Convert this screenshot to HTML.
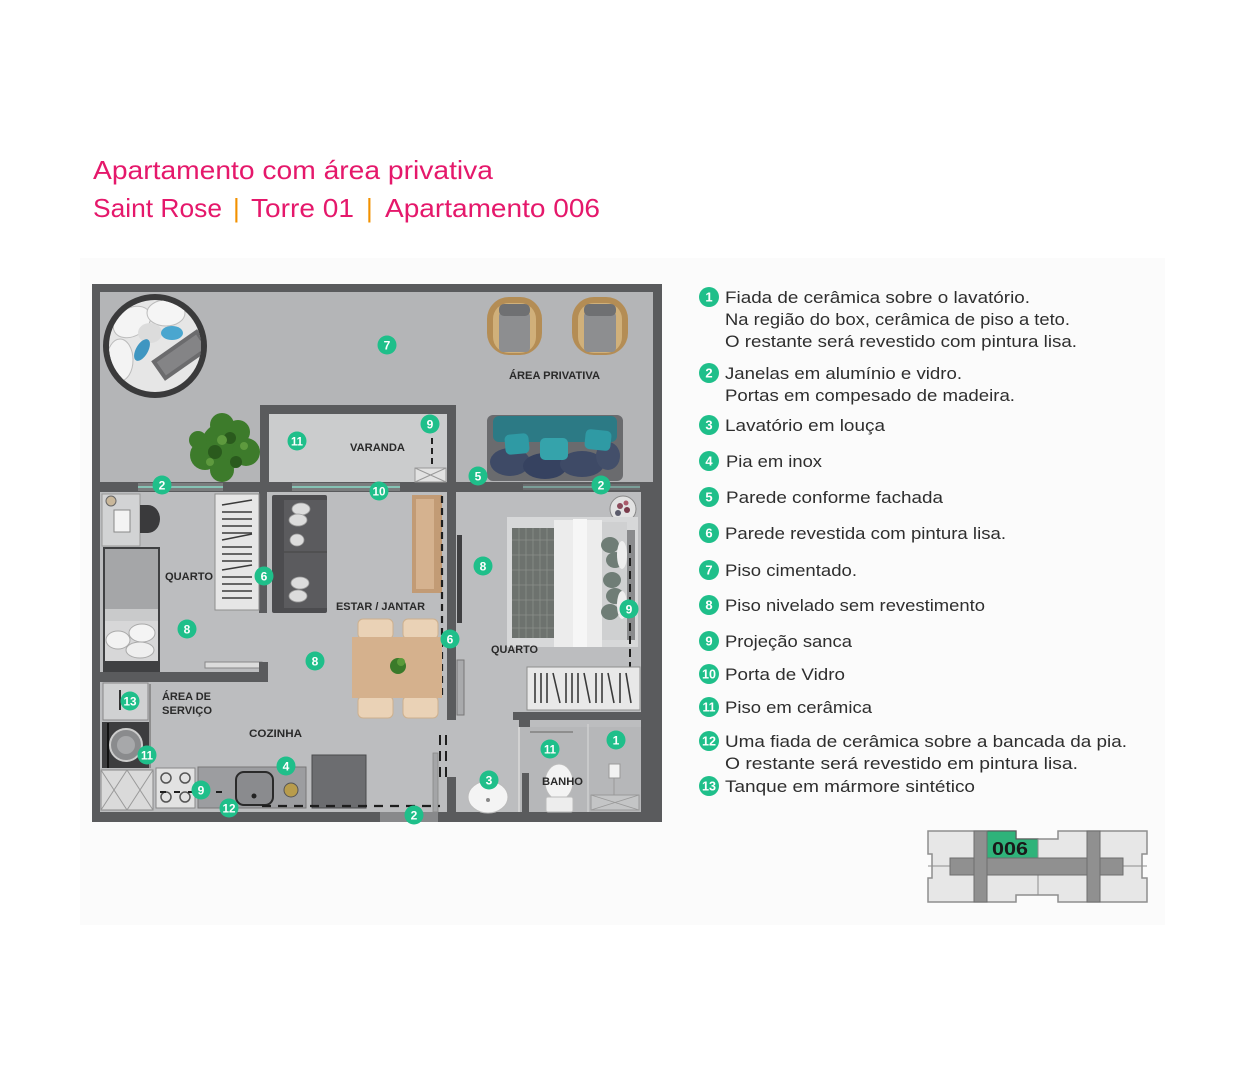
<!DOCTYPE html>
<html><head><meta charset="utf-8"><style>
html,body{margin:0;padding:0;background:#fff;width:1250px;height:1080px;overflow:hidden}
svg{display:block}
.t{font-family:"Liberation Sans",sans-serif}
.lbl{font-family:"Liberation Sans",sans-serif;font-weight:bold;font-size:11px;fill:#2a2a2a}
.bn{font-family:"Liberation Sans",sans-serif;font-weight:bold;font-size:12px;fill:#fff;text-anchor:middle}
.lg{font-family:"Liberation Sans",sans-serif;font-size:17px;fill:#2e2e2e}
.ln{font-family:"Liberation Sans",sans-serif;font-weight:bold;font-size:13px;fill:#fff;text-anchor:middle}
</style></head><body>
<svg width="1250" height="1080" viewBox="0 0 1250 1080" xmlns="http://www.w3.org/2000/svg">
<defs><clipPath id="pc"><circle cx="155" cy="346" r="46"/></clipPath></defs>
<rect x="0" y="0" width="1250" height="1080" fill="#fff"/>
<rect x="80" y="258" width="1085" height="667" fill="#fbfbfb"/>

<!-- Title -->
<text class="t" x="93" y="179" font-size="26" fill="#e5186b" textLength="400" lengthAdjust="spacingAndGlyphs">Apartamento com área privativa</text>
<text class="t" x="93" y="217" font-size="26" fill="#e5186b" textLength="129" lengthAdjust="spacingAndGlyphs">Saint Rose</text>
<text class="t" x="233" y="217" font-size="26" fill="#f29100">|</text>
<text class="t" x="251" y="217" font-size="26" fill="#e5186b" textLength="103" lengthAdjust="spacingAndGlyphs">Torre 01</text>
<text class="t" x="366" y="217" font-size="26" fill="#f29100">|</text>
<text class="t" x="385" y="217" font-size="26" fill="#e5186b" textLength="215" lengthAdjust="spacingAndGlyphs">Apartamento 006</text>

<!-- ============ FLOOR PLAN ============ -->
<rect x="92" y="284" width="570" height="538" fill="#5a5b5d"/>
<rect x="100" y="292" width="553" height="190" fill="#b4b5b7"/>
<rect x="100" y="492" width="541" height="320" fill="#bcbdbf"/>

<!-- windows on middle wall -->
<rect x="138" y="483" width="85" height="8" fill="#7a7c7d"/>
<line x1="138" y1="487" x2="223" y2="487" stroke="#86c2b4" stroke-width="2"/>
<rect x="292" y="483" width="108" height="8" fill="#7a7c7d"/>
<line x1="292" y1="487" x2="400" y2="487" stroke="#86c2b4" stroke-width="2"/>
<rect x="523" y="484" width="117" height="6" fill="#6a6b6d"/>
<line x1="523" y1="487" x2="640" y2="487" stroke="#7fb0a6" stroke-width="1.5"/>

<!-- varanda -->
<rect x="260" y="405" width="196" height="9" fill="#5a5b5d"/>
<rect x="260" y="405" width="9" height="80" fill="#5a5b5d"/>
<rect x="269" y="414" width="178" height="68" fill="#cbcccd"/>
<rect x="447" y="405" width="9" height="315" fill="#5a5b5d"/>
<rect x="415" y="468" width="31" height="14" fill="#e2e2e2" stroke="#999" stroke-width="1"/>
<path d="M415 468 L446 482 M446 468 L415 482" stroke="#999" stroke-width="1"/>
<line x1="432" y1="438" x2="432" y2="466" stroke="#222" stroke-width="2" stroke-dasharray="6 4"/>

<!-- papasan chair -->
<circle cx="155" cy="346" r="52" fill="#3a3a3b"/>
<circle cx="155" cy="346" r="46" fill="#e6e6e6"/>
<g clip-path="url(#pc)">
<ellipse cx="132" cy="322" rx="20" ry="14" fill="#f4f4f4" stroke="#bbb" transform="rotate(-30 132 322)"/>
<ellipse cx="166" cy="313" rx="19" ry="13" fill="#f5f5f5" stroke="#bbb"/>
<ellipse cx="120" cy="360" rx="13" ry="21" fill="#f3f3f3" stroke="#bbb"/>
<ellipse cx="150" cy="333" rx="12" ry="10" fill="#dcdcdc"/>
<ellipse cx="172" cy="333" rx="11" ry="7" fill="#4aa6cf"/>
<ellipse cx="142" cy="350" rx="6" ry="12" fill="#3f96c1" transform="rotate(30 142 350)"/>
<rect x="153" y="343" width="56" height="24" fill="#6b6b6d" transform="rotate(-35 181 355)"/>
<rect x="157" y="347" width="48" height="16" fill="#848486" transform="rotate(-35 181 355)"/>
</g>

<!-- tree -->
<g fill="#3d7b2b">
<circle cx="225" cy="446" r="24"/><circle cx="205" cy="455" r="15"/><circle cx="246" cy="452" r="14"/><circle cx="222" cy="425" r="12"/><circle cx="238" cy="432" r="12"/><circle cx="222" cy="470" r="12"/><circle cx="198" cy="440" r="9"/>
</g>
<g fill="#2a5a1d"><circle cx="215" cy="452" r="7"/><circle cx="236" cy="462" r="6"/><circle cx="230" cy="438" r="6"/></g>
<g fill="#5e9a3e"><circle cx="222" cy="440" r="5"/><circle cx="210" cy="462" r="4"/><circle cx="244" cy="446" r="4"/></g>

<!-- armchairs -->
<g>
<rect x="487" y="297" width="55" height="58" rx="22" fill="#b48d55"/>
<rect x="493" y="303" width="43" height="50" rx="16" fill="#d0b07a"/>
<rect x="499" y="312" width="31" height="40" rx="4" fill="#8d8e90"/>
<rect x="499" y="304" width="31" height="12" rx="5" fill="#6f7072"/>
</g>
<g>
<rect x="572" y="297" width="56" height="58" rx="22" fill="#b48d55"/>
<rect x="578" y="303" width="44" height="50" rx="16" fill="#d0b07a"/>
<rect x="584" y="312" width="32" height="40" rx="4" fill="#8d8e90"/>
<rect x="584" y="304" width="32" height="12" rx="5" fill="#6f7072"/>
</g>

<!-- sofa -->
<rect x="487" y="415" width="136" height="66" rx="6" fill="#6a6b6e"/>
<rect x="493" y="416" width="124" height="26" rx="6" fill="#2c7a85"/>
<ellipse cx="510" cy="462" rx="20" ry="14" fill="#3e4a66"/>
<ellipse cx="545" cy="466" rx="22" ry="13" fill="#364260"/>
<ellipse cx="582" cy="464" rx="22" ry="13" fill="#3e4a66"/>
<ellipse cx="608" cy="456" rx="12" ry="14" fill="#434f6a"/>
<rect x="505" y="434" width="24" height="20" rx="5" fill="#2f9aa4" transform="rotate(-5 517 444)"/>
<rect x="540" y="438" width="28" height="22" rx="5" fill="#35a3ab"/>
<rect x="585" y="430" width="26" height="20" rx="5" fill="#2f9aa4" transform="rotate(6 598 440)"/>

<!-- left quarto -->
<rect x="259" y="492" width="8" height="121" fill="#5a5b5d"/>
<rect x="92" y="672" width="176" height="10" fill="#5a5b5d"/>
<rect x="205" y="662" width="57" height="6" fill="#dcdcdc" stroke="#888" stroke-width="1"/>
<rect x="259" y="662" width="9" height="12" fill="#5a5b5d"/>
<!-- wardrobe -->
<rect x="215" y="494" width="44" height="116" fill="#e6e6e6" stroke="#8e8e8e"/>
<g stroke="#3a3a3a" stroke-width="1.6">
<line x1="222" y1="505" x2="252" y2="500"/><line x1="222" y1="512" x2="252" y2="512"/><line x1="222" y1="519" x2="252" y2="519"/><line x1="222" y1="526" x2="252" y2="526"/><line x1="222" y1="533" x2="252" y2="533"/><line x1="222" y1="540" x2="252" y2="534"/><line x1="222" y1="547" x2="252" y2="547"/><line x1="222" y1="554" x2="252" y2="554"/><line x1="222" y1="561" x2="252" y2="561"/><line x1="222" y1="570" x2="252" y2="565"/><line x1="222" y1="577" x2="252" y2="577"/><line x1="222" y1="584" x2="252" y2="584"/><line x1="222" y1="591" x2="252" y2="591"/><line x1="222" y1="598" x2="252" y2="598"/>
</g>
<!-- desk -->
<rect x="102" y="494" width="38" height="52" fill="#d2d3d4" stroke="#999"/>
<circle cx="111" cy="501" r="5" fill="#c9b79a" stroke="#666"/>
<rect x="114" y="510" width="16" height="22" fill="#f3f3f3" stroke="#888"/>
<path d="M140 505 h8 a12 14 0 0 1 0 28 h-8 z" fill="#3a3a3c"/>
<!-- bed -->
<rect x="103" y="547" width="57" height="125" fill="#3f4042"/>
<rect x="105" y="549" width="53" height="60" fill="#a5a6a8"/>
<rect x="105" y="609" width="53" height="12" fill="#c9cacb"/>
<rect x="105" y="621" width="53" height="40" fill="#d7d7d8"/>
<ellipse cx="118" cy="640" rx="12" ry="9" fill="#f2f2f2" stroke="#aaa"/>
<ellipse cx="142" cy="633" rx="13" ry="9" fill="#f4f4f4" stroke="#aaa"/>
<ellipse cx="140" cy="650" rx="14" ry="8" fill="#efefef" stroke="#aaa"/>

<!-- living -->
<rect x="272" y="495" width="55" height="118" rx="2" fill="#4c4c4f"/>
<rect x="284" y="500" width="43" height="108" fill="#5b5b5e"/>
<line x1="284" y1="552" x2="327" y2="552" stroke="#444" stroke-width="1"/>
<g fill="#dcdcdc" stroke="#999" stroke-width="0.8">
<ellipse cx="301" cy="509" rx="9" ry="6"/><ellipse cx="298" cy="520" rx="9" ry="6"/><ellipse cx="297" cy="540" rx="7" ry="6"/><ellipse cx="300" cy="583" rx="9" ry="6"/><ellipse cx="298" cy="596" rx="9" ry="6"/>
</g>
<rect x="412" y="495" width="30" height="98" fill="#c29b75"/>
<rect x="416" y="499" width="18" height="90" fill="#d5b28f"/>
<line x1="442" y1="496" x2="442" y2="700" stroke="#1e1e1e" stroke-width="2.2" stroke-dasharray="7 5"/>
<!-- dining -->
<rect x="358" y="619" width="35" height="20" rx="5" fill="#ead2b6" stroke="#cdb08e"/>
<rect x="403" y="619" width="35" height="20" rx="5" fill="#ead2b6" stroke="#cdb08e"/>
<rect x="358" y="696" width="35" height="22" rx="5" fill="#ead2b6" stroke="#cdb08e"/>
<rect x="403" y="696" width="35" height="22" rx="5" fill="#ead2b6" stroke="#cdb08e"/>
<rect x="352" y="637" width="90" height="61" fill="#d5b18d"/>
<circle cx="398" cy="666" r="8" fill="#3a7a2a"/><circle cx="401" cy="662" r="4" fill="#5a9a3a"/>

<!-- wall right-quarto / door area -->
<rect x="457" y="535" width="5" height="88" fill="#3f3f41"/>
<rect x="457" y="660" width="7" height="55" fill="#a9aaac" stroke="#777"/>
<line x1="440" y1="735" x2="440" y2="782" stroke="#1e1e1e" stroke-width="2" stroke-dasharray="10 6"/>
<line x1="446" y1="735" x2="446" y2="782" stroke="#1e1e1e" stroke-width="2" stroke-dasharray="10 6"/>
<rect x="447" y="777" width="9" height="36" fill="#5a5b5d"/>
<rect x="433" y="753" width="5" height="59" fill="#a4a5a7" stroke="#888" stroke-width="0.8"/>

<!-- right quarto -->
<circle cx="623" cy="509" r="13" fill="#e2e2e2" stroke="#888"/>
<circle cx="620" cy="506" r="3" fill="#8a4a5a"/><circle cx="627" cy="510" r="3" fill="#7a3a4a"/><circle cx="618" cy="513" r="3" fill="#5a5a6a"/><circle cx="626" cy="503" r="2.5" fill="#aa5a6a"/>
<rect x="507" y="517" width="131" height="130" fill="#d7d8d9"/>
<rect x="512" y="528" width="42" height="110" fill="#6d726e"/>
<g stroke="#8a8f8a" stroke-width="0.8">
<line x1="519" y1="528" x2="519" y2="638"/><line x1="526" y1="528" x2="526" y2="638"/><line x1="533" y1="528" x2="533" y2="638"/><line x1="540" y1="528" x2="540" y2="638"/><line x1="547" y1="528" x2="547" y2="638"/>
<line x1="512" y1="540" x2="554" y2="540"/><line x1="512" y1="555" x2="554" y2="555"/><line x1="512" y1="570" x2="554" y2="570"/><line x1="512" y1="585" x2="554" y2="585"/><line x1="512" y1="600" x2="554" y2="600"/><line x1="512" y1="615" x2="554" y2="615"/><line x1="512" y1="628" x2="554" y2="628"/>
</g>
<rect x="554" y="520" width="48" height="127" fill="#ececec"/>
<rect x="573" y="519" width="14" height="128" fill="#f6f6f6"/>
<rect x="602" y="522" width="25" height="118" fill="#cfd0d1"/>
<g fill="#6f7d76"><ellipse cx="610" cy="545" rx="9" ry="8"/><ellipse cx="615" cy="560" rx="9" ry="8"/><ellipse cx="612" cy="580" rx="9" ry="8"/><ellipse cx="615" cy="596" rx="9" ry="8"/><ellipse cx="610" cy="612" rx="9" ry="8"/></g>
<ellipse cx="622" cy="555" rx="5" ry="14" fill="#eee"/><ellipse cx="622" cy="605" rx="5" ry="14" fill="#eee"/>
<rect x="627" y="530" width="8" height="110" fill="#8a8b8d"/>
<line x1="630" y1="545" x2="630" y2="705" stroke="#1e1e1e" stroke-width="2" stroke-dasharray="8 5"/>
<!-- wardrobe right -->
<rect x="527" y="667" width="113" height="43" fill="#e8e8e8" stroke="#8e8e8e"/>
<g stroke="#3a3a3a" stroke-width="1.6">
<line x1="535" y1="673" x2="535" y2="703"/><line x1="541" y1="673" x2="541" y2="703"/><line x1="547" y1="673" x2="547" y2="703"/><line x1="553" y1="673" x2="560" y2="703"/><line x1="566" y1="673" x2="566" y2="703"/><line x1="572" y1="673" x2="572" y2="703"/><line x1="578" y1="673" x2="578" y2="703"/><line x1="584" y1="673" x2="590" y2="703"/><line x1="596" y1="673" x2="596" y2="703"/><line x1="602" y1="673" x2="602" y2="703"/><line x1="608" y1="673" x2="614" y2="703"/><line x1="620" y1="673" x2="620" y2="703"/><line x1="626" y1="673" x2="631" y2="703"/>
</g>
<path d="M513 712 H641 V720 H530 V727 H519 V720 H513 Z" fill="#5a5b5d"/>
<!-- banho -->
<rect x="519" y="727" width="122" height="85" fill="#b6b7b9"/>
<line x1="519" y1="727" x2="519" y2="812" stroke="#d2d2d2" stroke-width="2"/>
<line x1="588" y1="724" x2="588" y2="812" stroke="#cfcfcf" stroke-width="1.5"/>
<line x1="530" y1="732" x2="573" y2="732" stroke="#8e8e8e" stroke-width="2"/>
<rect x="522" y="773" width="7" height="40" fill="#5a5b5d"/>
<ellipse cx="488" cy="797" rx="20" ry="16" fill="#f4f4f4" stroke="#bbb"/>
<circle cx="488" cy="800" r="2" fill="#888"/>
<ellipse cx="559" cy="782" rx="14" ry="18" fill="#f3f3f3" stroke="#bbb"/>
<rect x="546" y="797" width="27" height="15" rx="2" fill="#ededed" stroke="#bbb"/>
<rect x="609" y="764" width="11" height="14" fill="#f2f2f2" stroke="#999"/>
<line x1="614" y1="778" x2="614" y2="795" stroke="#999"/>
<rect x="591" y="795" width="48" height="15" fill="#c4c5c6" stroke="#999"/>
<path d="M591 795 L639 810 M639 795 L591 810" stroke="#999" stroke-width="0.8"/>

<!-- bottom window -->
<rect x="380" y="812" width="58" height="10" fill="#88898b"/>

<!-- área de serviço / cozinha -->
<rect x="103" y="683" width="45" height="37" fill="#d0d1d2" stroke="#888"/>
<line x1="120" y1="690" x2="120" y2="710" stroke="#333" stroke-width="2"/>
<rect x="102" y="722" width="48" height="46" fill="#3d3d3f"/>
<circle cx="126" cy="745" r="16" fill="#8a8b8d" stroke="#ccc" stroke-width="2"/>
<circle cx="126" cy="745" r="9" fill="#a7a8aa"/>
<line x1="108" y1="723" x2="108" y2="768" stroke="#111" stroke-width="2"/>
<line x1="150" y1="684" x2="150" y2="768" stroke="#8e8e8e" stroke-width="2"/>
<rect x="101" y="770" width="52" height="40" fill="#dadada" stroke="#888"/>
<path d="M101 770 L127 810 M127 770 L101 810 M127 770 L153 810 M153 770 L127 810" stroke="#999" stroke-width="1"/>
<rect x="156" y="768" width="39" height="40" fill="#e2e2e2" stroke="#888"/>
<g fill="none" stroke="#555" stroke-width="1.5"><circle cx="166" cy="778" r="5"/><circle cx="185" cy="778" r="5"/><circle cx="166" cy="797" r="5"/><circle cx="185" cy="797" r="5"/></g>
<rect x="198" y="767" width="108" height="41" fill="#9c9da0" stroke="#777"/>
<rect x="236" y="772" width="37" height="33" rx="8" fill="#8a8b8e" stroke="#2a2a2a" stroke-width="2"/>
<circle cx="254" cy="796" r="2.5" fill="#222"/>
<circle cx="291" cy="790" r="7" fill="#b89c4c" stroke="#555"/>
<rect x="312" y="755" width="54" height="53" fill="#6c6d70" stroke="#4a4a4c"/>
<line x1="160" y1="792" x2="230" y2="792" stroke="#1e1e1e" stroke-width="2" stroke-dasharray="6 8"/>
<line x1="262" y1="806" x2="440" y2="806" stroke="#1e1e1e" stroke-width="2.2" stroke-dasharray="9 7"/>

<!-- labels -->
<text class="lbl" x="509" y="379" textLength="91" lengthAdjust="spacingAndGlyphs">ÁREA PRIVATIVA</text>
<text class="lbl" x="350" y="451" textLength="55" lengthAdjust="spacingAndGlyphs">VARANDA</text>
<text class="lbl" x="165" y="580" textLength="48" lengthAdjust="spacingAndGlyphs">QUARTO</text>
<text class="lbl" x="336" y="610" textLength="89" lengthAdjust="spacingAndGlyphs">ESTAR / JANTAR</text>
<text class="lbl" x="491" y="653" textLength="47" lengthAdjust="spacingAndGlyphs">QUARTO</text>
<text class="lbl" x="162" y="700" textLength="49" lengthAdjust="spacingAndGlyphs">ÁREA DE</text>
<text class="lbl" x="162" y="714" textLength="50" lengthAdjust="spacingAndGlyphs">SERVIÇO</text>
<text class="lbl" x="249" y="737" textLength="53" lengthAdjust="spacingAndGlyphs">COZINHA</text>
<text class="lbl" x="542" y="785" textLength="41" lengthAdjust="spacingAndGlyphs">BANHO</text>

<!-- plan badges -->
<g fill="#1fbf8a">
<circle cx="387" cy="345" r="9.5"/><circle cx="430" cy="424" r="9.5"/><circle cx="297" cy="441" r="9.5"/>
<circle cx="162" cy="485" r="9.5"/><circle cx="379" cy="491" r="9.5"/><circle cx="478" cy="476" r="9.5"/><circle cx="601" cy="485" r="9.5"/>
<circle cx="264" cy="576" r="9.5"/><circle cx="483" cy="566" r="9.5"/><circle cx="629" cy="609" r="9.5"/>
<circle cx="187" cy="629" r="9.5"/><circle cx="315" cy="661" r="9.5"/><circle cx="450" cy="639" r="9.5"/>
<circle cx="130" cy="701" r="9.5"/><circle cx="147" cy="755" r="9.5"/><circle cx="286" cy="766" r="9.5"/>
<circle cx="489" cy="780" r="9.5"/><circle cx="550" cy="749" r="9.5"/><circle cx="616" cy="740" r="9.5"/>
<circle cx="201" cy="790" r="9.5"/><circle cx="229" cy="808" r="9.5"/><circle cx="414" cy="815" r="9.5"/>
</g>
<g>
<text class="bn" x="387" y="349.5">7</text><text class="bn" x="430" y="428.5">9</text><text class="bn" x="297" y="445.5" textLength="12" lengthAdjust="spacingAndGlyphs">11</text>
<text class="bn" x="162" y="489.5">2</text><text class="bn" x="379" y="495.5" textLength="13" lengthAdjust="spacingAndGlyphs">10</text><text class="bn" x="478" y="480.5">5</text><text class="bn" x="601" y="489.5">2</text>
<text class="bn" x="264" y="580.5">6</text><text class="bn" x="483" y="570.5">8</text><text class="bn" x="629" y="613.5">9</text>
<text class="bn" x="187" y="633.5">8</text><text class="bn" x="315" y="665.5">8</text><text class="bn" x="450" y="643.5">6</text>
<text class="bn" x="130" y="705.5" textLength="13" lengthAdjust="spacingAndGlyphs">13</text><text class="bn" x="147" y="759.5" textLength="12" lengthAdjust="spacingAndGlyphs">11</text><text class="bn" x="286" y="770.5">4</text>
<text class="bn" x="489" y="784.5">3</text><text class="bn" x="550" y="753.5" textLength="12" lengthAdjust="spacingAndGlyphs">11</text><text class="bn" x="616" y="744.5">1</text>
<text class="bn" x="201" y="794.5">9</text><text class="bn" x="229" y="812.5" textLength="13" lengthAdjust="spacingAndGlyphs">12</text><text class="bn" x="414" y="819.5">2</text>
</g>

<!-- ============ LEGEND ============ -->
<g fill="#1fbf8a">
<circle cx="709" cy="297" r="10"/><circle cx="709" cy="373" r="10"/><circle cx="709" cy="425" r="10"/><circle cx="709" cy="461" r="10"/><circle cx="709" cy="497" r="10"/><circle cx="709" cy="533" r="10"/><circle cx="709" cy="570" r="10"/><circle cx="709" cy="605" r="10"/><circle cx="709" cy="641" r="10"/><circle cx="709" cy="674" r="10"/><circle cx="709" cy="707" r="10"/><circle cx="709" cy="741" r="10"/><circle cx="709" cy="786" r="10"/>
</g>
<g>
<text class="ln" x="709" y="301.5">1</text><text class="ln" x="709" y="377.5">2</text><text class="ln" x="709" y="429.5">3</text><text class="ln" x="709" y="465.5">4</text><text class="ln" x="709" y="501.5">5</text><text class="ln" x="709" y="537.5">6</text><text class="ln" x="709" y="574.5">7</text><text class="ln" x="709" y="609.5">8</text><text class="ln" x="709" y="645.5">9</text>
<text class="ln" x="709" y="678.5" textLength="14" lengthAdjust="spacingAndGlyphs">10</text><text class="ln" x="709" y="711.5" textLength="13" lengthAdjust="spacingAndGlyphs">11</text><text class="ln" x="709" y="745.5" textLength="14" lengthAdjust="spacingAndGlyphs">12</text><text class="ln" x="709" y="790.5" textLength="14" lengthAdjust="spacingAndGlyphs">13</text>
</g>
<text class="lg" x="725" y="303" textLength="305" lengthAdjust="spacingAndGlyphs">Fiada de cerâmica sobre o lavatório.</text>
<text class="lg" x="725" y="325" textLength="345" lengthAdjust="spacingAndGlyphs">Na região do box, cerâmica de piso a teto.</text>
<text class="lg" x="725" y="347" textLength="352" lengthAdjust="spacingAndGlyphs">O restante será revestido com pintura lisa.</text>
<text class="lg" x="725" y="379" textLength="237" lengthAdjust="spacingAndGlyphs">Janelas em alumínio e vidro.</text>
<text class="lg" x="725" y="401" textLength="290" lengthAdjust="spacingAndGlyphs">Portas em compesado de madeira.</text>
<text class="lg" x="725" y="431" textLength="160" lengthAdjust="spacingAndGlyphs">Lavatório em louça</text>
<text class="lg" x="726" y="467" textLength="96" lengthAdjust="spacingAndGlyphs">Pia em inox</text>
<text class="lg" x="726" y="503" textLength="217" lengthAdjust="spacingAndGlyphs">Parede conforme fachada</text>
<text class="lg" x="725" y="539" textLength="281" lengthAdjust="spacingAndGlyphs">Parede revestida com pintura lisa.</text>
<text class="lg" x="725" y="576" textLength="132" lengthAdjust="spacingAndGlyphs">Piso cimentado.</text>
<text class="lg" x="725" y="611" textLength="260" lengthAdjust="spacingAndGlyphs">Piso nivelado sem revestimento</text>
<text class="lg" x="725" y="647" textLength="127" lengthAdjust="spacingAndGlyphs">Projeção sanca</text>
<text class="lg" x="725" y="680" textLength="120" lengthAdjust="spacingAndGlyphs">Porta de Vidro</text>
<text class="lg" x="725" y="713" textLength="147" lengthAdjust="spacingAndGlyphs">Piso em cerâmica</text>
<text class="lg" x="725" y="747" textLength="402" lengthAdjust="spacingAndGlyphs">Uma fiada de cerâmica sobre a bancada da pia.</text>
<text class="lg" x="725" y="769" textLength="353" lengthAdjust="spacingAndGlyphs">O restante será revestido em pintura lisa.</text>
<text class="lg" x="725" y="792" textLength="250" lengthAdjust="spacingAndGlyphs">Tanque em mármore sintético</text>

<!-- ============ MINI MAP ============ -->
<path d="M928 831 H1016 V839 H1058 V831 H1147 V854 H1142 V878 H1147 V902 H1058 V895 H1016 V902 H928 V878 H932 V854 H928 Z" fill="#e7e7e7" stroke="#8e8e8e" stroke-width="1.5"/>
<path d="M987 831 H1016 V839 H1038 V858 H987 Z" fill="#2fb37a" stroke="#555" stroke-width="1"/>
<line x1="1038" y1="839" x2="1038" y2="858" stroke="#8e8e8e" stroke-width="1"/>
<line x1="1038" y1="875" x2="1038" y2="895" stroke="#8e8e8e" stroke-width="1"/>
<line x1="928" y1="866" x2="950" y2="866" stroke="#8e8e8e" stroke-width="1"/>
<line x1="1123" y1="866" x2="1147" y2="866" stroke="#8e8e8e" stroke-width="1"/>
<rect x="950" y="858" width="173" height="17" fill="#909090" stroke="#6e6e6e" stroke-width="1"/>
<rect x="974" y="831" width="13" height="71" fill="#909090" stroke="#6e6e6e" stroke-width="1"/>
<rect x="1087" y="831" width="13" height="71" fill="#909090" stroke="#6e6e6e" stroke-width="1"/>
<text class="t" x="992" y="855" font-size="18" font-weight="bold" fill="#1a1a1a" textLength="36" lengthAdjust="spacingAndGlyphs">006</text>
</svg>
</body></html>
